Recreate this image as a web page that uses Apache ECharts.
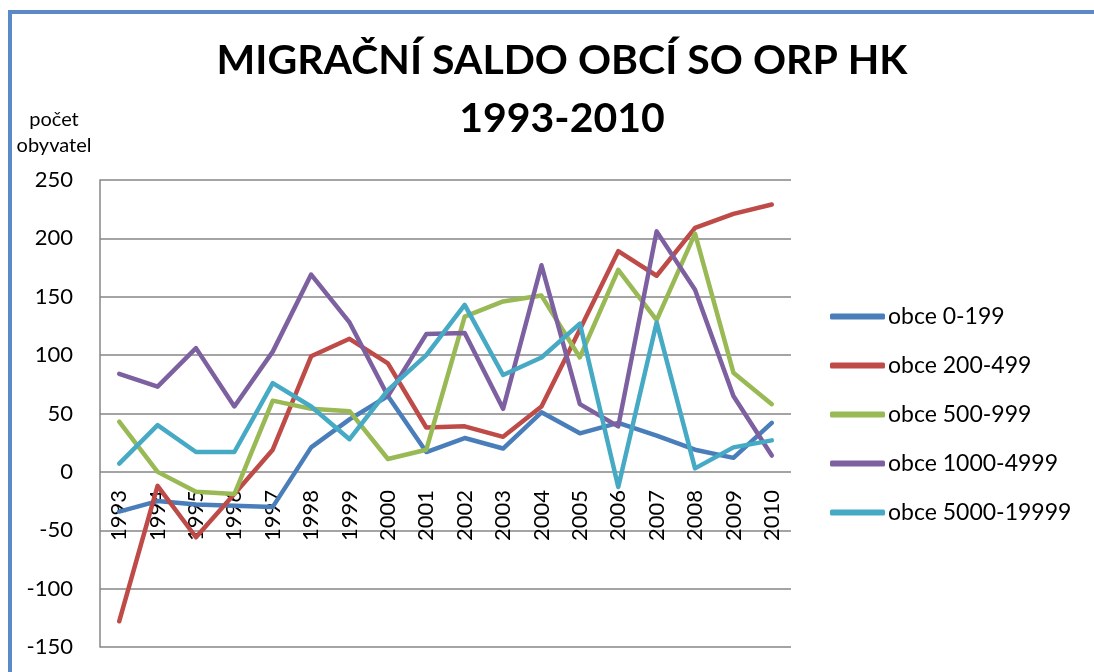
<!DOCTYPE html>
<html>
<head>
<meta charset="utf-8">
<script src="https://cdn.jsdelivr.net/npm/echarts@6/dist/echarts.min.js"></script>
<style>
  html, body { margin: 0; padding: 0; background: #fff; }
  #chart { position: absolute; left: 0; top: 0; width: 1094px; height: 672px; }
  #frame { position: absolute; left: 8px; top: 10px; right: 0; bottom: 0;
           border-top: 4px solid #5B8AC6; border-left: 4px solid #5B8AC6; pointer-events: none; }
</style>
</head>
<body>
<div id="chart"></div>
<div id="frame"></div>
<script>
var years = ['1993', '1994', '1995', '1996', '1997', '1998', '1999', '2000', '2001',
             '2002', '2003', '2004', '2005', '2006', '2007', '2008', '2009', '2010']

var obce0_199 = [-34, -25, -28, -29, -30, 21, 45, 65, 17, 29, 20, 51, 33, 42, 31, 19, 12, 42]
var obce200_499 = [-128, -12, -56, -19, 19, 99, 114, 93, 38, 39, 30, 56, 122, 189, 168, 209, 221, 229]
var obce500_999 = [43, 0, -17, -19, 61, 54, 52, 11, 19, 133, 146, 151, 98, 173, 130, 204, 85, 58]
var obce1000_4999 = [84, 73, 106, 56, 103, 169, 128, 65, 118, 119, 54, 177, 58, 39, 206, 156, 65, 14]
var obce5000_19999 = [7, 40, 17, 17, 76, 56, 28, 70, 100, 143, 83, 98, 127, -13, 128, 3, 21, 27]

var seriesNames = ['obce 0-199', 'obce 200-499', 'obce 500-999', 'obce 1000-4999', 'obce 5000-19999']
var seriesData = [obce0_199, obce200_499, obce500_999, obce1000_4999, obce5000_19999]
var colors = ['#4A7EBB', '#BE4B48', '#98B954', '#7D60A0', '#46AAC5']

var font = 'Lato, "Noto Sans", sans-serif'

var chart = echarts.init(document.getElementById('chart'))

var series = seriesNames.map(function (name, i) {
    return {
        name: name,
        type: 'line',
        data: seriesData[i],
        showSymbol: false,
        symbol: 'none',
        lineStyle: { width: 4.5, color: colors[i], cap: 'round', join: 'round' },
        itemStyle: { color: colors[i] },
        emphasis: { disabled: true }
    }
})

chart.setOption({
    backgroundColor: '#fff',
    animation: false,
    title: {
        text: 'MIGRAČNÍ SALDO OBCÍ SO ORP HK\n1993-2010',
        left: 557,
        top: 27,
        textAlign: 'center',
        textStyle: {
            fontFamily: font,
            fontWeight: 'bold',
            fontSize: 41,
            lineHeight: 58,
            color: '#000'
        }
    },
    legend: {
        orient: 'vertical',
        left: 830,
        top: 305,
        padding: 0,
        itemGap: 26,
        itemWidth: 55,
        itemHeight: 6,
        icon: 'roundRect',
        textStyle: { fontFamily: font, fontSize: 23, color: '#000', padding: [0, 0, 0, -2] },
        data: seriesNames
    },
    grid: {
        left: 100,
        top: 180,
        right: 303,
        bottom: 25,
        containLabel: false,
        outerBoundsMode: 'none'
    },
    xAxis: {
        type: 'category',
        data: years,
        boundaryGap: true,
        position: 'bottom',
        // labels sit just under the zero line, as in the original
        axisLine: { show: false },
        axisTick: { show: false },
        axisLabel: {
            rotate: 90,
            margin: -157,
            interval: 0,
            fontFamily: font,
            fontSize: 22,
            color: '#000'
        },
        splitLine: { show: false }
    },
    yAxis: {
        type: 'value',
        min: -150,
        max: 250,
        interval: 50,
        axisLine: { show: true, lineStyle: { color: '#868686', width: 1.5 } },
        axisTick: { show: false },
        axisLabel: {
            margin: 27,
            fontFamily: font,
            fontSize: 22,
            color: '#000'
        },
        splitLine: { show: true, lineStyle: { color: '#868686', width: 1.5 } }
    },
    graphic: [{
        type: 'text',
        x: 54,
        y: 107,
        style: {
            text: 'počet\nobyvatel',
            textAlign: 'center',
            font: '20px ' + font,
            lineHeight: 26,
            fill: '#000'
        }
    }],
    series: series
})
</script>
</body>
</html>
